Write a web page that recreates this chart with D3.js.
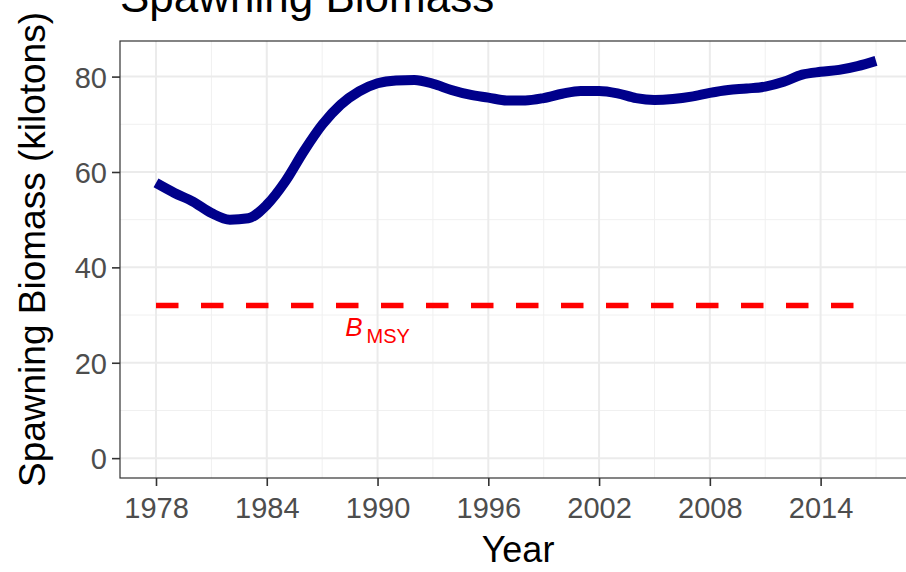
<!DOCTYPE html>
<html>
<head>
<meta charset="utf-8">
<script src="https://cdn.jsdelivr.net/npm/d3@7"></script>
<style>
html,body{margin:0;padding:0;background:#fff;overflow:hidden;}
svg{display:block;font-family:"Liberation Sans",Arial,sans-serif;}
</style>
</head>
<body>
<svg id="chart" width="906" height="572"></svg>
<script>
const years = d3.range(1978, 2018);
const biomass = [57.7, 55.6, 53.8, 51.4, 50.0, 50.3, 53.1, 58.0, 64.3, 69.9,
  74.1, 76.9, 78.6, 79.2, 79.3, 78.5, 77.2, 76.2, 75.6, 75.0,
  75.0, 75.5, 76.4, 77.0, 77.0, 76.5, 75.5, 75.1, 75.3, 75.8,
  76.6, 77.2, 77.5, 77.9, 78.9, 80.4, 81.0, 81.4, 82.2, 83.3];
const bmsy = 32.0;
const xTicks = [1978, 1984, 1990, 1996, 2002, 2008, 2014];
const xMinor = [1981, 1987, 1993, 1999, 2005, 2011, 2017];
const yTicks = [0, 20, 40, 60, 80];
const yMinor = [10, 30, 50, 70];
const labels = {title: "Spawning Biomass", x: "Year", y: "Spawning Biomass (kilotons)"};

const svg = d3.select("#chart");
const P = {left: 120, right: 912, top: 41, bottom: 478};

const xMin = d3.min(years), xMax = d3.max(years);
const xPad = (xMax - xMin) * 0.05;
const x = d3.scaleLinear().domain([xMin - xPad, xMax + xPad]).range([P.left, P.right]);
const yMaxV = d3.max(biomass);
const yPad = yMaxV * 0.05;
const y = d3.scaleLinear().domain([0 - yPad, yMaxV + yPad]).range([P.bottom, P.top]);

svg.append("defs").append("clipPath").attr("id", "pc")
  .append("rect").attr("x", P.left).attr("y", P.top)
  .attr("width", P.right - P.left).attr("height", P.bottom - P.top);

svg.append("rect").attr("x", P.left).attr("y", P.top)
  .attr("width", P.right - P.left).attr("height", P.bottom - P.top).attr("fill", "#fff");

const grid = svg.append("g").attr("clip-path", "url(#pc)");
grid.selectAll(".xm").data(xMinor).join("line")
  .attr("x1", d => x(d)).attr("x2", d => x(d)).attr("y1", P.top).attr("y2", P.bottom)
  .attr("stroke", "#f0f0f0").attr("stroke-width", 1);
grid.selectAll(".ym").data(yMinor).join("line")
  .attr("y1", d => y(d)).attr("y2", d => y(d)).attr("x1", P.left).attr("x2", P.right)
  .attr("stroke", "#f0f0f0").attr("stroke-width", 1);
grid.selectAll(".xg").data(xTicks).join("line")
  .attr("x1", d => x(d)).attr("x2", d => x(d)).attr("y1", P.top).attr("y2", P.bottom)
  .attr("stroke", "#ebebeb").attr("stroke-width", 2);
grid.selectAll(".yg").data(yTicks).join("line")
  .attr("y1", d => y(d)).attr("y2", d => y(d)).attr("x1", P.left).attr("x2", P.right)
  .attr("stroke", "#ebebeb").attr("stroke-width", 2);

const plot = svg.append("g").attr("clip-path", "url(#pc)");
plot.append("path")
  .datum(years)
  .attr("d", d3.line().x(d => x(d)).y(() => y(bmsy)))
  .attr("fill", "none").attr("stroke", "#ff0000").attr("stroke-width", 5.5)
  .attr("stroke-dasharray", "22.5 22.5");

const data = years.map((yr, i) => ({yr, v: biomass[i]}));
plot.append("path")
  .datum(data)
  .attr("d", d3.line().x(d => x(d.yr)).y(d => y(d.v)).curve(d3.curveMonotoneX))
  .attr("fill", "none").attr("stroke", "#00008b").attr("stroke-width", 10)
  .attr("stroke-linejoin", "round").attr("stroke-linecap", "butt");

const lab = svg.append("text")
  .attr("x", x(1990)).attr("y", y(bmsy) + 30)
  .attr("text-anchor", "middle").attr("fill", "#ff0000");
lab.append("tspan").attr("font-style", "italic").attr("font-size", 26).text("B");
lab.append("tspan").attr("font-size", 20).attr("dx", 4).attr("dy", 7).text("MSY");

svg.append("rect").attr("x", P.left).attr("y", P.top)
  .attr("width", P.right - P.left).attr("height", P.bottom - P.top)
  .attr("fill", "none").attr("stroke", "#333333").attr("stroke-width", 1.2);

const xAxis = svg.append("g").attr("transform", `translate(0,${P.bottom})`)
  .call(d3.axisBottom(x).tickValues(xTicks).tickFormat(d3.format("d")).tickSize(8).tickPadding(5));
const yAxis = svg.append("g").attr("transform", `translate(${P.left},0)`)
  .call(d3.axisLeft(y).tickValues(yTicks).tickSize(8).tickPadding(5));
[xAxis, yAxis].forEach(a => {
  a.select(".domain").remove();
  a.selectAll(".tick line").attr("stroke", "#333333").attr("stroke-width", 1.6);
  a.selectAll(".tick text").attr("fill", "#4d4d4d").attr("font-size", 29)
    .attr("font-family", "'Liberation Sans', Arial, sans-serif");
});
xAxis.selectAll(".tick text").attr("dy", "0.93em");
yAxis.selectAll(".tick text").attr("dy", "0.36em");

svg.append("text").attr("x", (P.left + P.right) / 2 + 2).attr("y", 562)
  .attr("text-anchor", "middle").attr("font-size", 36).attr("fill", "#000").text(labels.x);
svg.append("text").attr("transform", `translate(45,${(P.top + P.bottom) / 2 - 10}) rotate(-90)`)
  .attr("text-anchor", "middle").attr("font-size", 37).attr("fill", "#000").text(labels.y);
svg.append("text").attr("x", P.left).attr("y", 12)
  .attr("font-size", 44).attr("fill", "#000").text(labels.title);
</script>
</body>
</html>
